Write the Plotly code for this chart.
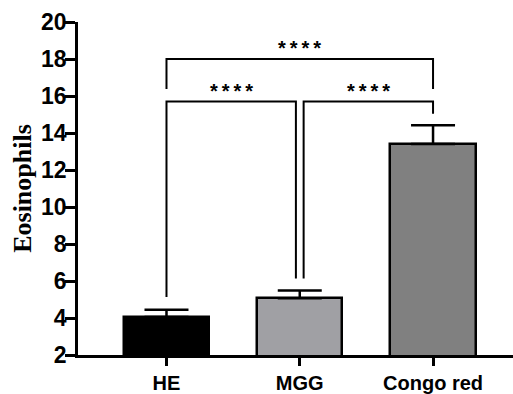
import plotly.graph_objects as go

categories = ["HE", "MGG", "Congo red"]
means = [4.05, 5.07, 13.4]
sem_up = [0.4, 0.42, 1.02]
bar_colors = ["#000000", "#A0A0A4", "#808080"]
y_ticks = [2, 4, 6, 8, 10, 12, 14, 16, 18, 20]

# significance brackets: (x_left, x_right, y_top, y_left_end, y_right_end, label)
brackets = [
    (0.0, 2.0, 18.0, 16.38, 16.38, "****"),
    (0.0, 0.971, 15.7, 5.13, 6.14, "****"),
    (1.029, 2.0, 15.7, 6.14, 15.04, "****"),
]
label_y_offset = [0.62, 0.56, 0.56]

SANS = "Arial, Liberation Sans"
fig = go.Figure()
fig.add_trace(go.Bar(
    x=[0, 1, 2], y=means, width=0.64,
    marker=dict(color=bar_colors, line=dict(color="black", width=2.5)),
    error_y=dict(type="data", symmetric=False, array=sem_up, arrayminus=[0, 0, 0],
                 color="black", thickness=2.5, width=22),
))

for (xl, xr, yt, yle, yre, lab), off in zip(brackets, label_y_offset):
    fig.add_shape(type="path",
                  path=f"M {xl} {yle} L {xl} {yt} L {xr} {yt} L {xr} {yre}",
                  xref="x", yref="y", line=dict(color="black", width=2))
    star_text = "\u2009".join(list(lab))
    fig.add_annotation(x=(xl + xr) / 2, y=yt + off, text=f"<b>{star_text}</b>", showarrow=False,
                       xref="x", yref="y",
                       font=dict(family=SANS, size=20, color="black"))

fig.update_layout(
    width=513, height=394,
    margin=dict(l=78, r=0, t=22, b=35),
    plot_bgcolor="white", paper_bgcolor="white",
    showlegend=False,
    bargap=0,
)
fig.update_xaxes(
    range=[-0.664, 2.6], tickmode="array", tickvals=[0, 1, 2],
    ticktext=[f"<b>{c}</b>" for c in categories],
    showline=True, linecolor="black", linewidth=2.5,
    ticks="outside", ticklen=8, tickwidth=2.5, tickcolor="black",
    tickfont=dict(family=SANS, size=20, color="black"),
    showgrid=False, zeroline=False,
)
fig.update_yaxes(
    range=[2, 20], tickmode="array", tickvals=y_ticks,
    ticktext=[f"<b>{v}</b>" for v in y_ticks],
    showline=True, linecolor="black", linewidth=2.5,
    ticks="outside", ticklen=10, tickwidth=2.5, tickcolor="black",
    tickfont=dict(family=SANS, size=23, color="black"),
    ticklabelstandoff=-6,
    showgrid=False, zeroline=False,
    title=dict(text="<b>Eosinophils</b>", standoff=2,
               font=dict(family="Times New Roman, Liberation Serif", size=26, color="black")),
)

fig.write_html("out.html")
